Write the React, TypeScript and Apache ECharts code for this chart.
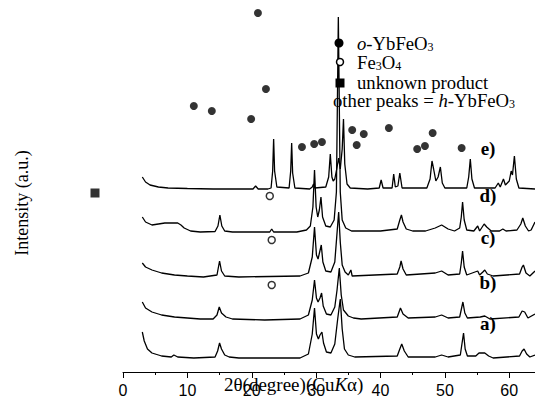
import React, { useEffect, useRef } from "react";
import * as echarts from "echarts";

// ---- data (2θ in degrees, intensity in a.u. above each pattern's own baseline) ----
const X_MIN = 0;
const X_MAX = 64;
const X_INTERVAL = 10;
const X_TICKS = [0, 10, 20, 30, 40, 50, 60];

const traceNames = ["e)", "d)", "c)", "b)", "a)"];
const traceOffsets = [183, 140, 95, 52, 13];

const traceE: [number, number][] = [
  [3, 12], [3.5, 7], [4.2, 4], [5.5, 2], [7, 1], [10, 0.5], [14, 0], [18, 0], [20.2, 0], [20.6, 3], [21, 0],
  [22.5, 0], [23.0, 1], [23.25, 18], [23.4, 50], [23.55, 18], [23.9, 2], [25.8, 1], [26.05, 18], [26.2, 46],
  [26.35, 16], [26.7, 1], [29.0, 0], [29.4, 2], [29.6, 5], [29.8, 1], [31.5, 2], [31.95, 12], [32.2, 35],
  [32.45, 12], [32.65, 8], [32.9, 10], [33.2, 20], [33.5, 31], [33.75, 20], [34.05, 40], [34.25, 70],
  [34.45, 25], [34.8, 5], [35.3, 1], [38, 0], [39.8, 1], [40.1, 9], [40.4, 1], [41.8, 1], [42.05, 15],
  [42.3, 2], [42.7, 3], [43.0, 16], [43.35, 1], [47.2, 1], [47.7, 10], [48.0, 28], [48.25, 20], [48.6, 8],
  [48.95, 12], [49.3, 22], [49.6, 6], [50.0, 1], [53.4, 1], [53.7, 12], [53.95, 30], [54.2, 10], [54.6, 1],
  [57.8, 1], [58.3, 6], [58.6, 2], [59.1, 10], [59.4, 4], [60.0, 8], [60.3, 18], [60.5, 14], [60.8, 33],
  [61.1, 10], [61.5, 1], [64, 0],
];

const traceD: [number, number][] = [
  [3, 15], [3.5, 10], [4.5, 7], [5.5, 8], [6.5, 9], [7.5, 9], [8.5, 9], [9.0, 7], [9.5, 4], [10.5, 1],
  [12, 0], [14.3, 0.5], [14.75, 6], [15.05, 17], [15.35, 6], [15.8, 1], [17, 0], [22.8, 0], [23.1, 3],
  [23.4, 0], [27, 0], [28.5, 2], [29.1, 6], [29.5, 25], [29.75, 62], [30.0, 25], [30.25, 15], [30.5, 22],
  [30.75, 35], [31.0, 15], [31.5, 6], [32.2, 5], [32.8, 12], [33.15, 40], [33.45, 215], [33.75, 40],
  [34.05, 12], [34.6, 4], [35.5, 1], [40, 1], [42.6, 3], [43.0, 12], [43.25, 17], [43.5, 10], [44, 3],
  [45, 1], [47, 1], [48.5, 4], [49.5, 7], [50.5, 3], [51.5, 1], [52.3, 4], [52.55, 15], [52.75, 30],
  [53.0, 12], [53.4, 2], [54.5, 1], [55.1, 6], [55.4, 1], [55.8, 5], [56.1, 8], [56.5, 5], [57.2, 1],
  [58.5, 1], [59.0, 3], [59.5, 1], [61.2, 2], [61.8, 8], [62.1, 14], [62.5, 6], [63.0, 1], [63.4, 2],
  [64, 10],
];

const traceC: [number, number][] = [
  [3, 14], [3.5, 10], [4.5, 7], [6, 4], [8, 2], [10, 1], [12.5, 0], [14.6, 2], [15.0, 16], [15.3, 6],
  [15.8, 1], [18, 0], [27.5, 1], [28.8, 4], [29.4, 20], [29.75, 50], [30.05, 22], [30.3, 18], [30.55, 25],
  [30.8, 32], [31.05, 15], [31.5, 6], [32.3, 5], [32.9, 15], [33.2, 40], [33.5, 65], [33.75, 35],
  [34.05, 12], [34.5, 5], [35.0, 2], [35.4, 7], [35.6, 1], [42.6, 3], [43.0, 10], [43.2, 16], [43.5, 8],
  [44, 2], [48.5, 4], [49.5, 6], [50.5, 2], [52.3, 3], [52.55, 14], [52.75, 26], [53.0, 10], [53.4, 2],
  [55.1, 6], [55.4, 2], [55.9, 5], [56.2, 7], [56.6, 3], [57.5, 1], [61.6, 3], [62.0, 10], [62.2, 12],
  [62.6, 4], [63.2, 1], [64, 6],
];

const traceB: [number, number][] = [
  [3, 18], [3.5, 12], [4.5, 8], [6, 5], [8, 3], [10, 2], [12, 1], [14.0, 1], [14.6, 5], [14.95, 13],
  [15.3, 7], [16, 3], [17, 1], [22, 0], [27.5, 1], [28.8, 5], [29.4, 20], [29.75, 40], [30.05, 22],
  [30.3, 18], [30.6, 22], [30.85, 27], [31.1, 14], [31.6, 6], [32.3, 5], [32.9, 13], [33.25, 30],
  [33.6, 52], [33.9, 25], [34.25, 10], [35, 4], [35.8, 2], [37, 1], [42.6, 3], [43.1, 12], [43.5, 6],
  [44.3, 2], [48.5, 3], [49.5, 5], [50.5, 2], [52.3, 3], [52.6, 12], [52.8, 18], [53.1, 7], [53.5, 2],
  [55.5, 3], [56.2, 4], [57, 1], [61.5, 3], [62.0, 9], [62.4, 8], [62.9, 2], [64, 6],
];

const traceA: [number, number][] = [
  [3, 27], [3.3, 18], [3.8, 10], [4.5, 6], [6, 3], [7.5, 2], [7.9, 4], [8.5, 2], [11, 1], [14.3, 2],
  [14.7, 8], [15.0, 16], [15.3, 10], [15.8, 4], [16.5, 2], [18, 1], [27.5, 1], [28.8, 5], [29.4, 25],
  [29.75, 51], [30.05, 25], [30.35, 20], [30.6, 24], [30.9, 27], [31.15, 16], [31.6, 7], [32.3, 6],
  [32.9, 15], [33.35, 40], [33.75, 60], [34.05, 30], [34.4, 10], [35, 4], [36, 2], [42.6, 3], [43.0, 10],
  [43.3, 15], [43.7, 8], [44.3, 2], [48.5, 2], [49.5, 4], [50.5, 2], [52.4, 4], [52.65, 15], [52.9, 26],
  [53.15, 10], [53.5, 3], [54.8, 3], [55.3, 6], [56.2, 6], [56.8, 3], [57.5, 1], [61.6, 3], [62.0, 8],
  [62.3, 10], [62.7, 5], [63.2, 2], [64, 4],
];

const traces = [traceE, traceD, traceC, traceB, traceA];

// peak markers: [2θ, marker height a.u.]
const oYbFeO3Marks: [number, number][] = [
  [20.96, 359], [22.2, 283], [11.0, 266], [13.8, 261], [19.9, 253], [27.8, 225], [29.7, 228], [30.9, 230],
  [35.6, 242], [36.3, 227], [37.4, 238], [41.3, 244], [45.7, 223], [46.9, 226], [48.1, 239], [52.6, 224],
];
const fe3o4Marks: [number, number][] = [[22.8, 176], [23.1, 132], [23.1, 87]];
const unknownMarks: [number, number][] = [[-4.35, 179]];

const SERIF = "'Liberation Serif', 'Times New Roman', serif";
const SANS = "'Liberation Sans', Arial, sans-serif";

export default function App() {
  const ref = useRef<HTMLDivElement>(null);

  useEffect(() => {
    if (!ref.current) return;
    const chart = echarts.init(ref.current, undefined, { renderer: "svg" });

    const lineSeries = traces.map((t, i) => ({
      type: "line",
      name: traceNames[i],
      data: t.map(([x, y]) => [x, y + traceOffsets[i]]),
      showSymbol: false,
      symbol: "none",
      lineStyle: { color: "#000", width: 1.3 },
      silent: true,
      z: 2,
    }));

    const labelY = [148, 195, 237, 282, 323];
    const legendRich = {
      i: { fontFamily: SERIF, fontSize: 18.7, fontStyle: "italic", fill: "#000" },
      s: { fontFamily: SERIF, fontSize: 12, verticalAlign: "bottom", lineHeight: 12, padding: [8, 0, 0, 0], fill: "#000" },
      n: { fontFamily: SERIF, fontSize: 18.7, fill: "#000" },
    };

    const option: any = {
      animation: false,
      grid: { left: 123, right: 0, top: 0, bottom: 27, containLabel: false },
      xAxis: {
        type: "value",
        min: X_MIN,
        max: X_MAX,
        interval: X_INTERVAL,
        axisLine: { show: true, lineStyle: { color: "#000", width: 1 } },
        axisTick: { show: true, inside: false, length: 6, lineStyle: { color: "#000" } },
        minorTick: { show: true, splitNumber: 2, length: 3, lineStyle: { color: "#000" } },
        splitLine: { show: false },
        minorSplitLine: { show: false },
        axisLabel: {
          color: "#000",
          fontFamily: SANS,
          fontSize: 16,
          margin: 10,
          showMaxLabel: false,
          formatter: (v: number) => (X_TICKS.includes(v) ? String(v) : ""),
        },
      },
      yAxis: { type: "value", min: 0, max: 372, show: false },
      series: [
        ...lineSeries,
        {
          type: "scatter",
          name: "o-YbFeO3",
          data: oYbFeO3Marks,
          symbol: "circle",
          symbolSize: 8,
          itemStyle: { color: "#000" },
          clip: false,
          z: 3,
        },
        {
          type: "scatter",
          name: "Fe3O4",
          data: fe3o4Marks,
          symbol: "circle",
          symbolSize: 7,
          itemStyle: { color: "#fff", borderColor: "#000", borderWidth: 1.5 },
          clip: false,
          z: 3,
        },
        {
          type: "scatter",
          name: "unknown product",
          data: unknownMarks,
          symbol: "rect",
          symbolSize: 9,
          itemStyle: { color: "#000" },
          clip: false,
          z: 3,
        },
      ],
      graphic: [
        {
          type: "text",
          x: 22,
          y: 203,
          rotation: Math.PI / 2,
          style: {
            text: "Intensity (a.u.)",
            fontFamily: SERIF,
            fontSize: 18,
            fill: "#000",
            align: "center",
            verticalAlign: "middle",
          },
        },
        {
          type: "text",
          x: 224,
          y: 384,
          z: 10,
          style: {
            text: "{n|2θ(degree)(Cu}{i|K}{n|α)}",
            rich: {
              n: { fontFamily: SERIF, fontSize: 19, fill: "#000" },
              i: { fontFamily: SERIF, fontSize: 19, fontStyle: "italic", fill: "#000" },
            },
            align: "left",
            verticalAlign: "middle",
          },
        },
        ...traceNames.map((t, i) => ({
          type: "text",
          x: 488,
          y: labelY[i],
          z: 10,
          style: {
            text: t,
            fontFamily: SERIF,
            fontSize: 19,
            fontWeight: "bold",
            fill: "#000",
            align: "center",
            verticalAlign: "middle",
          },
        })),
        { type: "circle", shape: { cx: 339, cy: 43, r: 4.5 }, style: { fill: "#000" }, z: 10 },
        { type: "circle", shape: { cx: 340, cy: 62, r: 3.5 }, style: { fill: "#fff", stroke: "#000", lineWidth: 1.5 }, z: 10 },
        { type: "rect", shape: { x: 335.5, y: 78.5, width: 9, height: 9 }, style: { fill: "#000" }, z: 10 },
        {
          type: "text", x: 357, y: 43, z: 10,
          style: { text: "{i|o}{n|-YbFeO}{s|3}", rich: legendRich, verticalAlign: "middle" },
        },
        {
          type: "text", x: 357, y: 62, z: 10,
          style: { text: "{n|Fe}{s|3}{n|O}{s|4}", rich: legendRich, verticalAlign: "middle" },
        },
        {
          type: "text", x: 357, y: 82, z: 10,
          style: { text: "{n|unknown product}", rich: legendRich, verticalAlign: "middle" },
        },
        {
          type: "text", x: 333, y: 100, z: 10,
          style: { text: "{n|other peaks = }{i|h}{n|-YbFeO}{s|3}", rich: legendRich, verticalAlign: "middle" },
        },
      ],
    };

    chart.setOption(option);
    return () => chart.dispose();
  }, []);

  return (
    <div
      ref={ref}
      style={{ position: "fixed", left: 0, top: 0, width: 535, height: 399, background: "#fff" }}
    />
  );
}
